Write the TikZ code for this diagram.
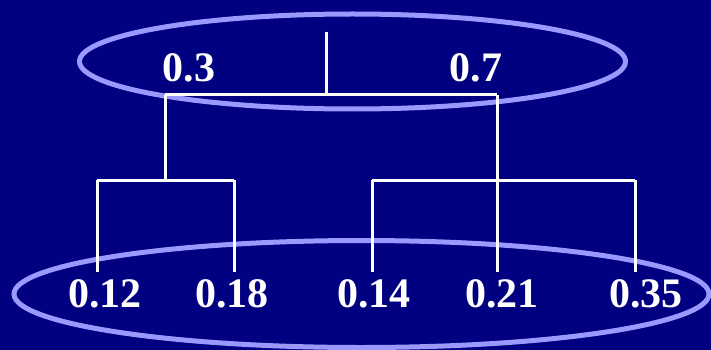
\documentclass[tikz,border=0pt]{standalone}
\usepackage{fontspec}
\setmainfont{Liberation Serif}
\begin{document}
\begin{tikzpicture}[x=1pt,y=-1pt,
  ring/.style={draw=ringcol, line width=5pt},
  branch/.style={draw=white, line width=3pt, line cap=butt},
  num/.style={text=white, font=\fontsize{42}{42}\selectfont\bfseries, anchor=base, inner sep=0pt}]
\definecolor{navy}{HTML}{000080}
\definecolor{ringcol}{HTML}{9999FF}
\fill[navy] (0,0) rectangle (711,350);
\useasboundingbox (0,0) rectangle (711,350);
% ellipses
\draw[ring] (352.5,61.5) ellipse [x radius=273, y radius=47.5];
\draw[ring] (361.5,294) ellipse [x radius=347.5, y radius=53.5];
% coordinates of the tree
\coordinate (root) at (326,32);
\coordinate (rootj) at (326,95);
\coordinate (tl) at (165,95);
\coordinate (tr) at (497,95);
\coordinate (ljl) at (97,180);
\coordinate (ljr) at (234,180);
\coordinate (lj) at (165,180);
\coordinate (rjl) at (372,180);
\coordinate (rjr) at (635,180);
\coordinate (l1) at (97,272);
\coordinate (l2) at (234,272);
\coordinate (l3) at (372,272);
\coordinate (l4) at (497,272);
\coordinate (l5) at (635,272);
% tree
\draw[branch] (root) -- (rootj);
\draw[branch] (tl) -- (tr);
\draw[branch] (tl) -- (lj);
\draw[branch] (ljl) -- (ljr);
\draw[branch] (ljl) -- (l1);
\draw[branch] (ljr) -- (l2);
\draw[branch] (tr) -- (l4);
\draw[branch] (rjl) -- (rjr);
\draw[branch] (rjl) -- (l3);
\draw[branch] (rjr) -- (l5);
% labels
\node[num] (p3) at (189,82) {0.3};
\node[num] (p7) at (476,82) {0.7};
\node[num] (a) at (105,307) {0.12};
\node[num] (b) at (232,307) {0.18};
\node[num] (c) at (374,307) {0.14};
\node[num] (d) at (502,307) {0.21};
\node[num] (e) at (646,307) {0.35};
\end{tikzpicture}
\end{document}
